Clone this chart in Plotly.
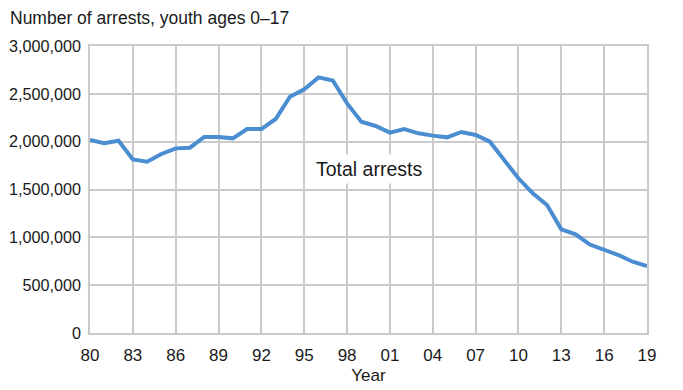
import plotly.graph_objects as go

years = list(range(1980, 2020))
arrests = [
    2017000, 1983000, 2010000, 1815000, 1790000, 1871000, 1930000, 1937000,
    2049000, 2049000, 2035000, 2132000, 2132000, 2237000, 2470000, 2547000,
    2672000, 2640000, 2400000, 2209000, 2164000, 2094000, 2132000, 2087000,
    2063000, 2045000, 2101000, 2070000, 2000000, 1808000, 1617000, 1460000,
    1338000, 1084000, 1031000, 925000, 868000, 815000, 745000, 700000,
]
tick_years = list(range(1980, 2020, 3))
tick_labels = ["80", "83", "86", "89", "92", "95", "98", "01", "04", "07", "10", "13", "16", "19"]
y_ticks = [0, 500000, 1000000, 1500000, 2000000, 2500000, 3000000]
y_labels = ["0", "500,000", "1,000,000", "1,500,000", "2,000,000", "2,500,000", "3,000,000"]

FONT = "Liberation Sans, Arial, Helvetica, sans-serif"
GRID = "#cacaca"

fig = go.Figure()
fig.add_trace(go.Scatter(
    x=years, y=arrests, mode="lines",
    line=dict(color="#4a8dd0", width=4),
    hoverinfo="skip", showlegend=False,
))

fig.update_layout(
    width=675, height=382,
    margin=dict(l=82, r=36, t=38, b=57),
    paper_bgcolor="white", plot_bgcolor="white",
    font=dict(family=FONT, size=17.5, color="#1a1a1a"),
    xaxis=dict(
        range=[1980, 2019], tickvals=tick_years, ticktext=tick_labels,
        showgrid=True, gridcolor=GRID, gridwidth=1.5,
        zeroline=False, showline=True, linecolor=GRID, linewidth=1.5, mirror=True,
        ticks="", ticklabelstandoff=6, automargin=False,
        tickfont=dict(size=17),
        title=dict(text="Year", standoff=5, font=dict(size=17)),
        fixedrange=True,
    ),
    yaxis=dict(
        range=[0, 3000000], tickvals=y_ticks, ticktext=y_labels,
        showgrid=True, gridcolor=GRID, gridwidth=1.5,
        zeroline=False, showline=True, linecolor=GRID, linewidth=1.5, mirror=True,
        ticks="", ticklabelstandoff=4, automargin=False,
        tickfont=dict(size=16.2),
        fixedrange=True,
    ),
    annotations=[
        dict(text="Number of arrests, youth ages 0\u201317", xref="paper", yref="paper",
             x=-82 / 557, y=(333 - 18) / 287, xanchor="left", yanchor="middle",
             showarrow=False, font=dict(size=17.5)),
        dict(text="Total arrests", x=1999.5, y=1714000, xanchor="center", yanchor="middle",
             showarrow=False, bgcolor="white", borderpad=3, font=dict(size=19.5)),
    ],
)

fig.write_html("out.html")
